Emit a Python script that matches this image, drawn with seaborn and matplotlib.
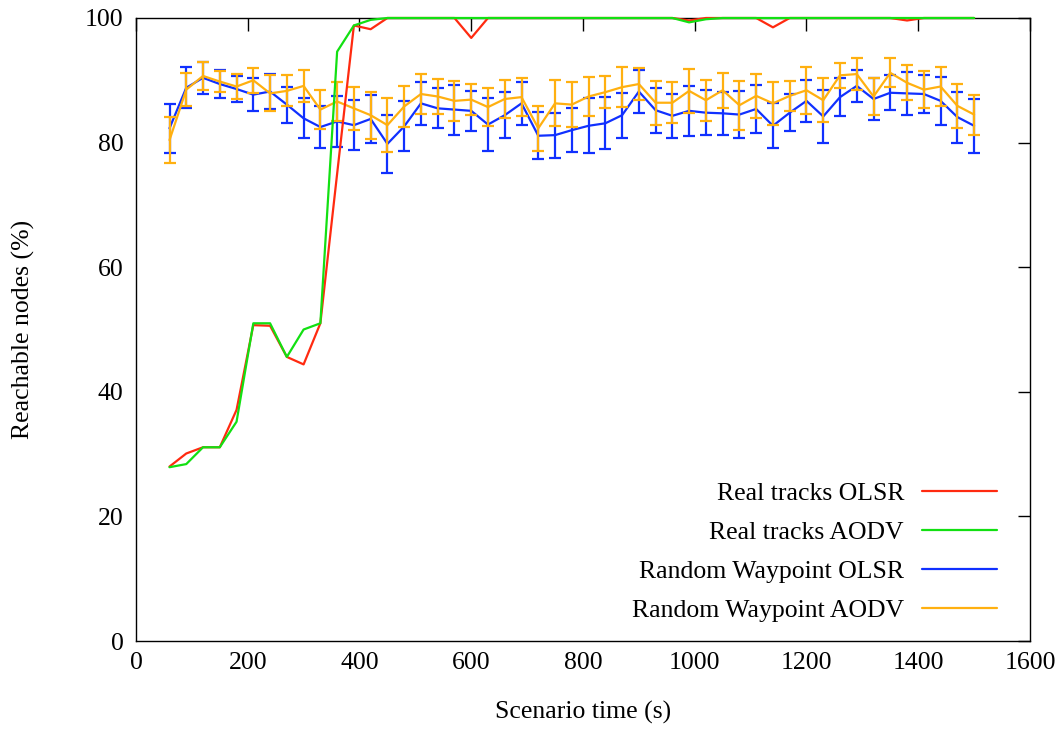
import numpy as np
import pandas as pd
import matplotlib
matplotlib.use('Agg')
import matplotlib.pyplot as plt
from matplotlib.lines import Line2D
import seaborn as sns

# --- Data ---
time_s = [60, 90, 120, 150, 180, 210, 240, 270, 300, 330, 360, 390, 420, 450,
          480, 510, 540, 570, 600, 630, 660, 690, 720, 750, 780, 810, 840, 870,
          900, 930, 960, 990, 1020, 1050, 1080, 1110, 1140, 1170, 1200, 1230,
          1260, 1290, 1320, 1350, 1380, 1410, 1440, 1470, 1500]

real_olsr = [28.0, 30.1, 31.1, 31.1, 37.1, 50.7, 50.6, 45.6, 44.4, 51.0, 75.0,
             98.8, 98.2, 100, 100, 100, 100, 100, 96.8, 100, 100, 100, 100, 100,
             100, 100, 100, 100, 100, 100, 100, 99.6, 100, 100, 100, 100, 98.5,
             100, 100, 100, 100, 100, 100, 100, 99.6, 100, 100, 100, 100]

real_aodv = [27.9, 28.4, 31.1, 31.1, 35.2, 51.0, 51.0, 45.6, 50.0, 51.0, 94.6,
             98.8, 99.7, 100, 100, 100, 100, 100, 100, 100, 100, 100, 100, 100,
             100, 100, 100, 100, 100, 100, 100, 99.3, 99.8, 100, 100, 100, 100,
             100, 100, 100, 100, 100, 100, 100, 100, 100, 100, 100, 100]

rwp_olsr = [82.3, 88.8, 90.4, 89.4, 88.6, 87.7, 88.2, 86.1, 83.9, 82.5, 83.4,
            82.8, 83.8, 79.8, 82.6, 86.3, 85.5, 85.3, 85.1, 82.9, 84.4, 86.3,
            81.1, 81.2, 82.0, 82.7, 83.1, 84.4, 88.2, 85.2, 84.3, 85.1, 84.8,
            84.7, 84.5, 85.4, 82.7, 84.8, 86.7, 84.2, 87.3, 89.1, 87.0, 88.0,
            87.9, 87.8, 86.7, 84.1, 82.7]
rwp_olsr_err = [3.9, 3.3, 2.6, 2.3, 2.1, 2.6, 2.8, 2.9, 3.2, 3.3, 4.1, 4.0, 3.8,
                4.7, 4.0, 3.5, 3.2, 4.0, 3.2, 4.2, 3.7, 3.4, 3.8, 3.6, 3.5, 4.4,
                4.2, 3.6, 3.5, 3.6, 3.5, 4.0, 3.6, 3.4, 3.8, 3.9, 3.6, 3.0, 3.4,
                4.3, 3.1, 2.6, 3.4, 2.8, 3.5, 3.0, 3.8, 4.1, 4.3]

rwp_aodv = [80.4, 88.5, 90.7, 89.8, 89.0, 90.0, 87.9, 88.3, 89.1, 85.3, 86.6,
            85.5, 84.4, 82.8, 85.8, 87.8, 87.4, 86.7, 86.9, 85.7, 87.0, 87.3,
            82.3, 86.3, 86.1, 87.4, 88.1, 88.9, 89.4, 86.4, 86.4, 88.3, 86.8,
            88.4, 86.0, 87.5, 86.3, 87.5, 88.4, 86.8, 90.8, 91.0, 87.4, 91.2,
            89.6, 88.5, 89.0, 85.9, 84.5]
rwp_aodv_err = [3.7, 2.7, 2.2, 1.7, 2.0, 2.0, 2.9, 2.5, 2.6, 3.1, 3.2, 3.5, 3.8,
                4.3, 3.3, 3.2, 2.8, 3.2, 2.5, 3.1, 3.1, 3.1, 3.6, 3.7, 3.6, 3.2,
                2.6, 3.2, 2.6, 3.5, 3.3, 3.5, 3.3, 2.8, 3.9, 3.5, 3.5, 2.4, 3.8,
                3.5, 2.0, 2.5, 3.0, 2.3, 2.8, 3.0, 3.1, 3.5, 3.2]

labels = ['Real tracks OLSR', 'Real tracks AODV',
          'Random Waypoint OLSR', 'Random Waypoint AODV']
colors = ['#ff2a10', '#12e012', '#1030ff', '#ffb010']

# --- Build long dataframe ---
frames = []
for lab, vals in zip(labels, [real_olsr, real_aodv, rwp_olsr, rwp_aodv]):
    frames.append(pd.DataFrame({'time': time_s, 'reach': vals, 'series': lab}))
df = pd.concat(frames, ignore_index=True)

# --- Plot ---
FS = 18.5
sns.set_theme(style='white')
plt.rcParams['font.family'] = ['Liberation Serif', 'DejaVu Serif']
plt.rcParams['font.size'] = FS
plt.rcParams['text.color'] = 'black'
plt.rcParams['axes.labelcolor'] = 'black'

fig = plt.figure(figsize=(10.59, 7.5), dpi=100)
ax = fig.add_axes([0.1284, 0.1453, 0.8442, 0.8307])

palette = dict(zip(labels, colors))
sns.lineplot(data=df, x='time', y='reach', hue='series', hue_order=labels,
             palette=palette, estimator=None, sort=False, linewidth=1.6,
             legend=False, ax=ax)

for vals, err, c, z in [(rwp_olsr, rwp_olsr_err, colors[2], 3),
                        (rwp_aodv, rwp_aodv_err, colors[3], 4)]:
    ax.errorbar(time_s, vals, yerr=err, fmt='none', ecolor=c, elinewidth=1.6,
                capsize=4, capthick=1.6, zorder=z)

# real tracks on top (and over the top frame line), orange above blue
ax.lines[0].set_zorder(5)
ax.lines[1].set_zorder(5.1)
ax.lines[0].set_clip_on(False)
ax.lines[1].set_clip_on(False)
ax.lines[2].set_zorder(3.5)
ax.lines[3].set_zorder(4.5)

ax.set_xlim(0, 1600)
ax.set_ylim(0, 100)
ax.set_xticks(range(0, 1601, 200))
ax.set_yticks(range(0, 101, 20))
ax.tick_params(direction='in', length=9, width=1, top=True, right=True,
               labelsize=FS, colors='black')
ax.tick_params(axis='x', pad=8)
ax.tick_params(axis='y', pad=9)
for sp in ax.spines.values():
    sp.set_color('black')
    sp.set_linewidth(1)

ax.set_xlabel('Scenario time (s)', fontsize=FS, labelpad=19, color='black')
ax.set_ylabel('Reachable nodes (%)', fontsize=FS, labelpad=36, color='black')

handles = [Line2D([], [], color=c, lw=1.6) for c in colors]
leg = ax.legend(handles, labels, loc='lower right',
                bbox_to_anchor=(0.989, -0.007), markerfirst=False,
                frameon=False, fontsize=FS, handlelength=2.92,
                handletextpad=0.7, labelspacing=0.63)
for t in leg.get_texts():
    t.set_color('black')

plt.savefig('out.png', dpi=100)
